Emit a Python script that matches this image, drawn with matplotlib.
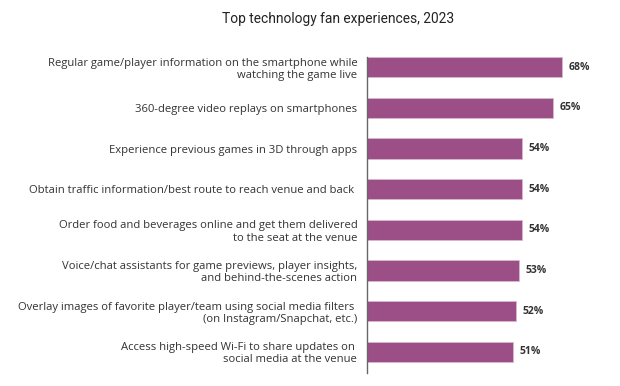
import matplotlib.pyplot as plt

labels = [
    "Regular game/player information on the smartphone while\nwatching the game live",
    "360-degree video replays on smartphones",
    "Experience previous games in 3D through apps",
    "Obtain traffic information/best route to reach venue and back ",
    "Order food and beverages online and get them delivered\nto the seat at the venue",
    "Voice/chat assistants for game previews, player insights,\nand behind-the-scenes action",
    "Overlay images of favorite player/team using social media filters \n(on Instagram/Snapchat, etc.)",
    "Access high-speed Wi-Fi to share updates on \nsocial media at the venue",
]
values = [68, 65, 54, 54, 54, 53, 52, 51]

BAR_COLOR = "#9b4f86"
TEXT_COLOR = "#333333"

plt.rcParams["font.family"] = ["Open Sans", "DejaVu Sans"]

fig = plt.figure(figsize=(6.2, 3.86), dpi=100)
ax = fig.add_axes([0.592, 0.034, 0.37, 0.818])

pos = list(range(len(values)))
bars = ax.barh(pos, values, height=0.5, color=BAR_COLOR, edgecolor="#d9b8cf", linewidth=0.6)

for p, v in zip(pos, values):
    ax.text(v + 2.2, p, f"{v}%", va="center", ha="left", fontsize=7.5,
            fontweight="bold", color=TEXT_COLOR)

ax.set_yticks(pos)
ax.set_yticklabels(labels, fontsize=8.1, color=TEXT_COLOR, linespacing=1.15)
ax.tick_params(axis="y", length=0, pad=7)
ax.set_xticks([])
ax.set_xlim(0, 80)
ax.set_ylim(7.52, -0.25)
for s in ["top", "right", "bottom"]:
    ax.spines[s].set_visible(False)
ax.spines["left"].set_color("#666666")
ax.spines["left"].set_linewidth(1.0)

fig.text(0.545, 0.95, "Top technology fan experiences, 2023", ha="center", va="center",
         fontsize=9.9, color="#222222", family=["Roboto", "DejaVu Sans"])

fig.savefig("out.png", dpi=100)
